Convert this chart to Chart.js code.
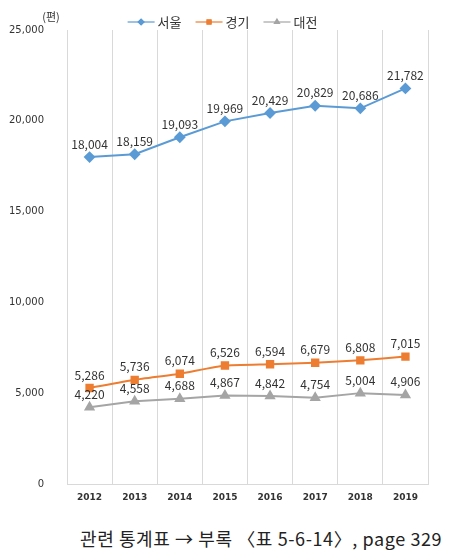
<!DOCTYPE html>
<html>
<head>
<meta charset="utf-8">
<script src="https://cdn.jsdelivr.net/npm/chart.js@4"></script>
<style>
  body { margin: 0; background: #fff; }
  #wrap { position: relative; width: 449px; height: 558px; }
  #footer {
    position: absolute; left: 80px; top: 525px;
    font-family: "Noto Sans CJK KR", sans-serif; font-size: 18px; color: #222;
    letter-spacing: 0.6px; white-space: nowrap;
  }
</style>
</head>
<body>
<div id="wrap">
  <canvas id="myChart" width="449" height="511"></canvas>
  <div id="footer">관련 통계표 → 부록 〈표 5-6-14〉, page 329</div>
</div>
<script>
// data
var years = ["2012", "2013", "2014", "2015", "2016", "2017", "2018", "2019"];
var seoul = [18004, 18159, 19093, 19969, 20429, 20829, 20686, 21782];
var gyeonggi = [5286, 5736, 6074, 6526, 6594, 6679, 6808, 7015];
var daejeon = [4220, 4558, 4688, 4867, 4842, 4754, 5004, 4906];
var seriesNames = ["서울", "경기", "대전"];
var yTicks = [0, 5000, 10000, 15000, 20000, 25000];
var unitLabel = "(편)";

var fmt = function (v) { return v.toLocaleString("en-US"); };

// value labels above each point
var valueLabels = {
  id: "valueLabels",
  afterDatasetsDraw: function (chart) {
    var ctx = chart.ctx;
    ctx.save();
    ctx.font = "12px 'Noto Sans CJK KR', sans-serif";
    ctx.fillStyle = "#333";
    ctx.textAlign = "center";
    ctx.textBaseline = "bottom";
    chart.data.datasets.forEach(function (ds, i) {
      chart.getDatasetMeta(i).data.forEach(function (pt, j) {
        ctx.fillText(fmt(ds.data[j]), pt.x, pt.y - 7);
      });
    });
    ctx.restore();
  }
};

// excel style legend (line + marker) and unit label
var topLegend = {
  id: "topLegend",
  afterDraw: function (chart) {
    var ctx = chart.ctx;
    ctx.save();
    ctx.font = "13px 'Noto Sans CJK KR', sans-serif";
    var lineW = 27, gap = 3, itemGap = 14;
    var widths = chart.data.datasets.map(function (ds) {
      return lineW + gap + ctx.measureText(ds.label).width;
    });
    var total = widths.reduce(function (a, b) { return a + b; }, 0) + itemGap * (widths.length - 1);
    var x = chart.width / 2 - total / 2 - 2;
    var y = 22;
    chart.data.datasets.forEach(function (ds, i) {
      ctx.strokeStyle = ds.borderColor;
      ctx.lineWidth = 1.2;
      ctx.beginPath();
      ctx.moveTo(x, y);
      ctx.lineTo(x + lineW, y);
      ctx.stroke();
      Chart.helpers.drawPoint(ctx, {
        pointStyle: ds.pointStyle, radius: 3, rotation: 0, borderWidth: 1
      }, x + lineW / 2, y);
      ctx.fillStyle = ds.borderColor;
      ctx.fill();
      ctx.fillStyle = "#333";
      ctx.textAlign = "left";
      ctx.textBaseline = "middle";
      ctx.fillText(ds.label, x + lineW + gap, y);
      x += widths[i] + itemGap;
    });
    // unit
    ctx.font = "11px 'Noto Sans CJK KR', sans-serif";
    ctx.textAlign = "center";
    ctx.fillStyle = "#333";
    ctx.fillText(unitLabel, 51, 17);
    ctx.restore();
  }
};

new Chart("myChart", {
  type: "line",
  data: {
    labels: years,
    datasets: [{
      label: seriesNames[0],
      data: seoul,
      borderColor: "#5B9BD5",
      backgroundColor: "#5B9BD5",
      pointStyle: "rectRot",
      pointRadius: 4.5,
      borderWidth: 2,
      fill: false
    }, {
      label: seriesNames[1],
      data: gyeonggi,
      borderColor: "#ED7D31",
      backgroundColor: "#ED7D31",
      pointStyle: "rect",
      pointRadius: 4.5,
      borderWidth: 2,
      tension: 0.15,
      fill: false
    }, {
      label: seriesNames[2],
      data: daejeon,
      borderColor: "#A5A5A5",
      backgroundColor: "#A5A5A5",
      pointStyle: "triangle",
      pointRadius: 4.5,
      borderWidth: 2,
      fill: false
    }]
  },
  options: {
    responsive: false,
    animation: false,
    layout: { padding: { top: 30, right: 21, left: 0, bottom: 0 } },
    plugins: {
      legend: { display: false },
      tooltip: { enabled: false }
    },
    scales: {
      x: {
        offset: true,
        grid: { offset: true, color: "#d9d9d9", drawTicks: false },
        border: { color: "#d9d9d9" },
        ticks: {
          padding: 8,
          color: "#333",
          font: { family: "DejaVu Sans", size: 9, weight: "bold" }
        },
        afterFit: function (s) { s.height = 27; }
      },
      y: {
        min: 0,
        max: 25000,
        afterBuildTicks: function (s) {
          s.ticks = yTicks.map(function (v) { return { value: v }; });
        },
        grid: { display: false },
        border: { color: "#d9d9d9" },
        ticks: {
          padding: 15,
          color: "#333",
          font: { family: "DejaVu Sans", size: 10 },
          callback: function (v) { return fmt(v); }
        },
        afterFit: function (s) { s.width = 67; }
      }
    }
  },
  plugins: [valueLabels, topLegend]
});
</script>
</body>
</html>
